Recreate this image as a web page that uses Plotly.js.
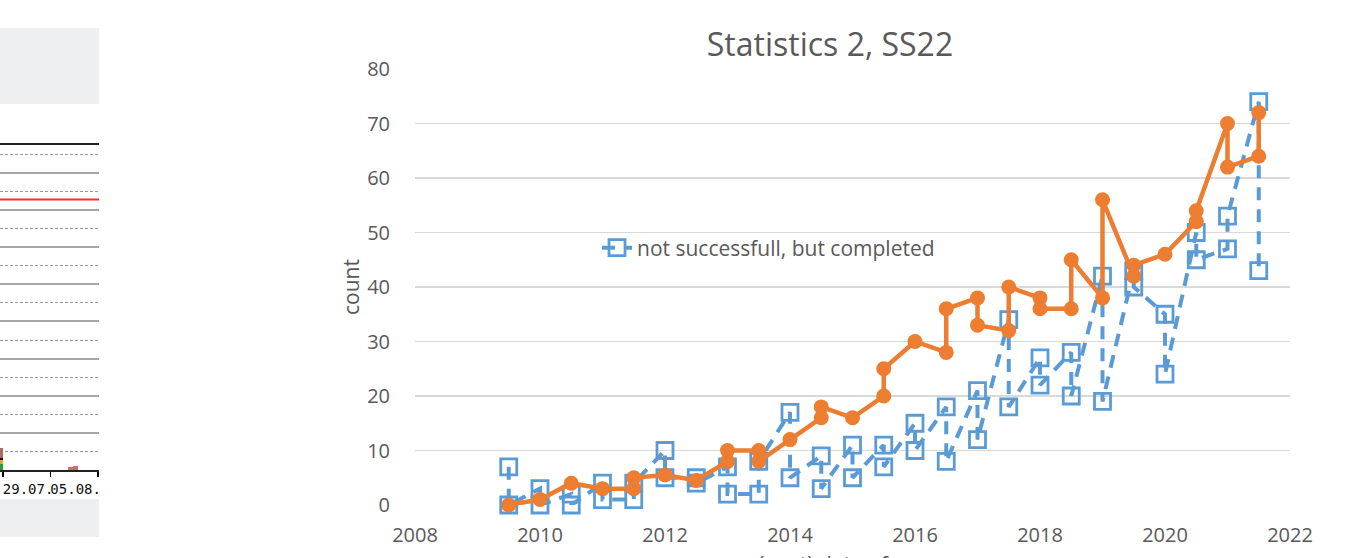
<!DOCTYPE html>
<html>
<head>
<meta charset="utf-8">
<script src="https://cdn.plot.ly/plotly-3.0.1.min.js"></script>
<style>
html,body{margin:0;padding:0;background:#fff;}
#chart{width:1361px;height:558px;}
</style>
</head>
<body>
<div id="chart"></div>
<script>
// ---- main chart data ----
const chartTitle = "Statistics 2, SS22";
const xAxisTitle = "(next) date of exam";
const yAxisTitle = "count";
const legendName = "not successfull, but completed";
const orangeName = "successfull";

const completedX = [2009.5, 2009.5, 2010, 2010, 2010.5, 2010.5, 2011, 2011, 2011.5, 2011.5,
  2012, 2012, 2012.5, 2012.5, 2013, 2013, 2013.5, 2013.5, 2014, 2014,
  2014.5, 2014.5, 2015, 2015, 2015.5, 2015.5, 2016, 2016, 2016.5, 2016.5,
  2017, 2017, 2017.5, 2017.5, 2018, 2018, 2018.5, 2018.5, 2019, 2019,
  2019.5, 2019.5, 2020, 2020, 2020.5, 2020.5, 2021, 2021, 2021.5, 2021.5];
const completedY = [7, 0, 3, 0, 2, 0, 4, 1, 1, 4,
  10, 5, 5, 4, 7, 2, 2, 8, 17, 5,
  9, 3, 11, 5, 11, 7, 15, 10, 18, 8,
  21, 12, 34, 18, 27, 22, 28, 20, 42, 19,
  43, 40, 35, 24, 50, 45, 47, 53, 74, 43];

const successX = [2009.5, 2010, 2010.5, 2011, 2011.5, 2011.5, 2012, 2012.5, 2013, 2013,
  2013.5, 2013.5, 2014, 2014.5, 2014.5, 2015, 2015.5, 2015.5, 2016, 2016.5,
  2016.5, 2017, 2017, 2017.5, 2017.5, 2018, 2018, 2018.5, 2018.5, 2019,
  2019, 2019.5, 2019.5, 2020, 2020.5, 2020.5, 2021, 2021, 2021.5, 2021.5];
const successY = [0, 1, 4, 3, 3, 5, 5.5, 4.5, 8, 10,
  10, 8, 12, 16, 18, 16, 20, 25, 30, 28,
  36, 38, 33, 32, 40, 38, 36, 36, 45, 38,
  56, 42, 44, 46, 52, 54, 70, 62, 64, 72];

// ---- cut-off neighbouring chart (left edge) ----
const sideTickVals = ["2022-07-29", "2022-08-05", "2022-08-12"];
const sideTickText = ["29.07.", "05.08.", ""];
const sideRange = ["2022-07-28 13:00", "2022-08-12 03:00"];
const sideBarDates = ["2022-07-28 12:00"];
const sideGreen = [0.17];
const sideOrange = [0.1];
const sideBlack = [0.05];
const sideBrown = [0.28];
const sideRedDates = ["2022-08-07 22:00", "2022-08-08 16:00"];
const sideRedVals = [0.07, 0.11];
const sideRedLine = 7.28;

const W = 1361, H = 558;
const px = v => v / W;
const py = v => 1 - v / H;

const textGrey = "#595959";
const font = "Open Sans, Liberation Sans, sans-serif";

const traces = [
  {
    x: completedX, y: completedY, name: legendName, type: "scatter", mode: "lines+markers",
    line: {color: "#5b9bd5", width: 4, dash: "13px,9px"},
    marker: {symbol: "square-open", size: 16, color: "#5b9bd5", line: {width: 2.8, color: "#5b9bd5"}},
    cliponaxis: false, xaxis: "x", yaxis: "y"
  },
  {
    x: successX, y: successY, name: orangeName, type: "scatter", mode: "lines+markers",
    line: {color: "#ed7d31", width: 4.5},
    marker: {symbol: "circle", size: 15, color: "#ed7d31"},
    showlegend: false, cliponaxis: false, xaxis: "x", yaxis: "y"
  },
  // neighbouring chart bars
  {x: sideBarDates, y: sideGreen, type: "bar", marker: {color: "#2ca02c"}, width: 86400000*1.1, xaxis: "x2", yaxis: "y2", showlegend: false, hoverinfo: "skip"},
  {x: sideBarDates, y: sideOrange, type: "bar", marker: {color: "#e8a33c"}, width: 86400000*1.1, xaxis: "x2", yaxis: "y2", showlegend: false, hoverinfo: "skip"},
  {x: sideBarDates, y: sideBlack, type: "bar", marker: {color: "#111"}, width: 86400000*1.1, xaxis: "x2", yaxis: "y2", showlegend: false, hoverinfo: "skip"},
  {x: sideBarDates, y: sideBrown, type: "bar", marker: {color: "#b06863"}, width: 86400000*1.1, xaxis: "x2", yaxis: "y2", showlegend: false, hoverinfo: "skip"},
  {x: sideRedDates, y: sideRedVals, type: "bar", marker: {color: "#c97070"}, width: 86400000*0.7, xaxis: "x2", yaxis: "y2", showlegend: false, hoverinfo: "skip"}
];

const layout = {
  width: W, height: H,
  margin: {l: 0, r: 0, t: 0, b: 0},
  paper_bgcolor: "#ffffff", plot_bgcolor: "rgba(0,0,0,0)",
  font: {family: font, color: textGrey, size: 18},
  barmode: "stack",
  title: {text: chartTitle, font: {family: font, size: 32, color: textGrey},
          x: px(830), xref: "paper", xanchor: "center", y: py(45), yref: "container", yanchor: "middle"},
  xaxis: {
    domain: [px(415), px(1290)], range: [2008, 2022], dtick: 2, tick0: 2008,
    showgrid: false, zeroline: false, showline: false,
    ticks: "outside", ticklen: 12, tickcolor: "rgba(0,0,0,0)",
    tickfont: {family: font, size: 20, color: textGrey},
    anchor: "y"
  },
  yaxis: {
    domain: [1 - 505/H, 1 - 69/H], range: [0, 80], dtick: 10,
    showgrid: true, gridcolor: "#d9d9d9", gridwidth: 1.5, zeroline: false, showline: false,
    ticks: "outside", ticklen: 20, tickcolor: "rgba(0,0,0,0)",
    tickfont: {family: font, size: 20, color: textGrey},
    title: {text: yAxisTitle, font: {family: font, size: 21, color: textGrey}},
    anchor: "x"
  },
  xaxis2: {
    domain: [0, px(99)], type: "date", range: sideRange,
    tickmode: "array", tickvals: sideTickVals, ticktext: sideTickText,
    tickangle: 0, ticklabelshift: 25,
    ticks: "outside", ticklen: 5, tickcolor: "#000", tickwidth: 1.5,
    showline: true, linecolor: "#222", linewidth: 2, mirror: true,
    showgrid: false, zeroline: false,
    tickfont: {family: "DejaVu Sans Mono, monospace", size: 14, color: "#111"},
    anchor: "y2"
  },
  yaxis2: {
    domain: [1 - 470/H, 1 - 145/H], range: [0, 8.75], dtick: 1, tick0: 0,
    showticklabels: false, ticks: "", zeroline: false,
    showgrid: true, gridcolor: "#a6a6a6", gridwidth: 2,
    minor: {dtick: 0.5, showgrid: true, gridcolor: "#9a9a9a", griddash: "3px,2px", gridwidth: 1},
    anchor: "x2"
  },
  annotations: [
    {text: xAxisTitle, xref: "x domain", yref: "paper", x: 0.5, y: py(548), xanchor: "center", yanchor: "top",
     showarrow: false, font: {family: font, size: 21, color: textGrey}}
  ],
  shapes: [
    {type: "rect", xref: "paper", yref: "paper", x0: 0, x1: px(99), y0: py(104), y1: py(28), fillcolor: "#eeeff1", line: {width: 0}, layer: "below"},
    {type: "rect", xref: "paper", yref: "paper", x0: 0, x1: px(99), y0: py(537), y1: py(499), fillcolor: "#eeeff1", line: {width: 0}, layer: "below"},
    {type: "line", xref: "x2 domain", yref: "y2", x0: 0, x1: 1, y0: sideRedLine, y1: sideRedLine, line: {color: "#ff2a2a", width: 2}}
  ],
  legend: {
    x: px(597), y: py(248), xanchor: "left", yanchor: "middle",
    bgcolor: "rgba(0,0,0,0)", borderwidth: 0,
    font: {family: font, size: 21, color: textGrey}
  },
  showlegend: true
};

Plotly.newPlot("chart", traces, layout, {displayModeBar: false, staticPlot: true});
</script>
</body>
</html>
